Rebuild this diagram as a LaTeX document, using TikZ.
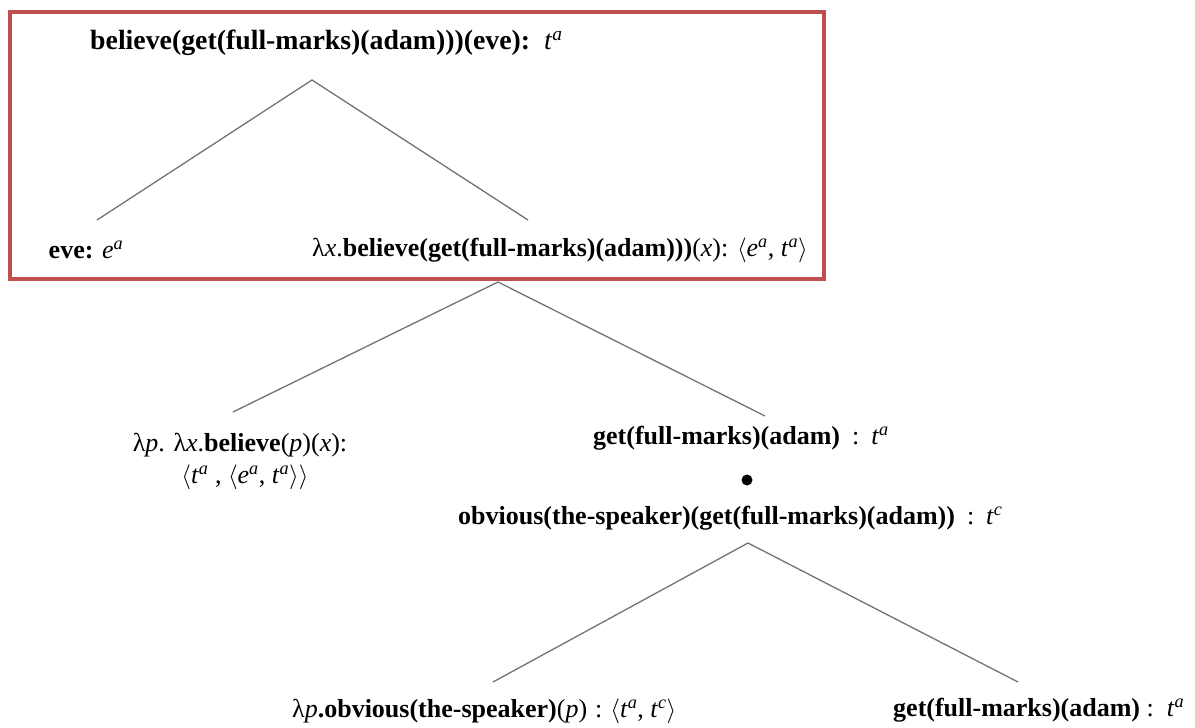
\documentclass[tikz,border=0pt]{standalone}
\usepackage{fontspec}
\setmainfont{Liberation Serif}
\newcommand{\ty}[2]{\textit{#1}\textsuperscript{\textit{#2}}}
\newcommand{\la}{$\langle$}
\newcommand{\ra}{$\rangle$}
\newcommand{\wcol}{\hspace{12pt}:\hspace{12pt}}
\begin{document}
\begin{tikzpicture}[x=1pt,y=-1pt,
  lbl/.style={inner sep=0pt,anchor=center,font=\fontsize{26}{31}\selectfont},
  branch/.style={draw=black!55,line width=1.3pt},
  frame/.style={draw={rgb,255:red,192;green,80;blue,77},line width=3.5pt}]
\useasboundingbox (0,0) rectangle (1195,728);
\definecolor{wh}{rgb}{1,1,1}
\fill[wh] (0,0) rectangle (1195,728);
% red frame
\draw[frame] (10,12) rectangle (824,279);
% labels
\node[lbl,anchor=west,font=\fontsize{27.8}{33}\selectfont] (top) at (90,43) {\textbf{believe(get(full-marks)(adam)))(eve):}\ \ \ty{t}{a}};
\node[lbl] (eve) at (86,250) {\textbf{eve:} \ty{e}{a}};
\node[lbl] (lamx) at (560,250) {λ\textit{x}.\textbf{believe(get(full-marks)(adam)))}(\textit{x}): \la\ty{e}{a}, \ty{t}{a}\ra};
\node[lbl] (lamp) at (240,445) {λ\textit{p}. λ\textit{x}.\textbf{believe}(\textit{p})(\textit{x}):};
\node[lbl] (lamptype) at (245,477) {\la\ty{t}{a} , \la\ty{e}{a}, \ty{t}{a}\ra\ra};
\node[lbl,anchor=west] (get1) at (593,438) {\textbf{get(full-marks)(adam)}\wcol\ty{t}{a}};
\node[circle,fill=black,inner sep=0pt,minimum size=11pt] (dot) at (747,480) {};
\node[lbl,anchor=west] (obv) at (458,518) {\textbf{obvious(the-speaker)(get(full-marks)(adam))}\wcol\ty{t}{c}};
\node[lbl,anchor=west] (lampo) at (292,711) {λ\textit{p}\textbf{.obvious(the-speaker)}(\textit{p})\hspace{8pt}:\hspace{8pt}\la\ty{t}{a}, \ty{t}{c}\ra};
\node[lbl,anchor=west] (get2) at (893,710) {\textbf{get(full-marks)(adam)} :\ \ \ty{t}{a}};
% branch points
\coordinate (a1) at (312,80);
\coordinate (a1l) at (97,220);
\coordinate (a1r) at (528,220);
\coordinate (a2) at (498,282);
\coordinate (a2l) at (233,412);
\coordinate (a2r) at (765,416);
\coordinate (a3) at (748,543);
\coordinate (a3l) at (493,682);
\coordinate (a3r) at (1018,682);
\draw[branch] (a1l) -- (a1) -- (a1r);
\draw[branch] (a2l) -- (a2) -- (a2r);
\draw[branch] (a3l) -- (a3) -- (a3r);
\end{tikzpicture}
\end{document}
